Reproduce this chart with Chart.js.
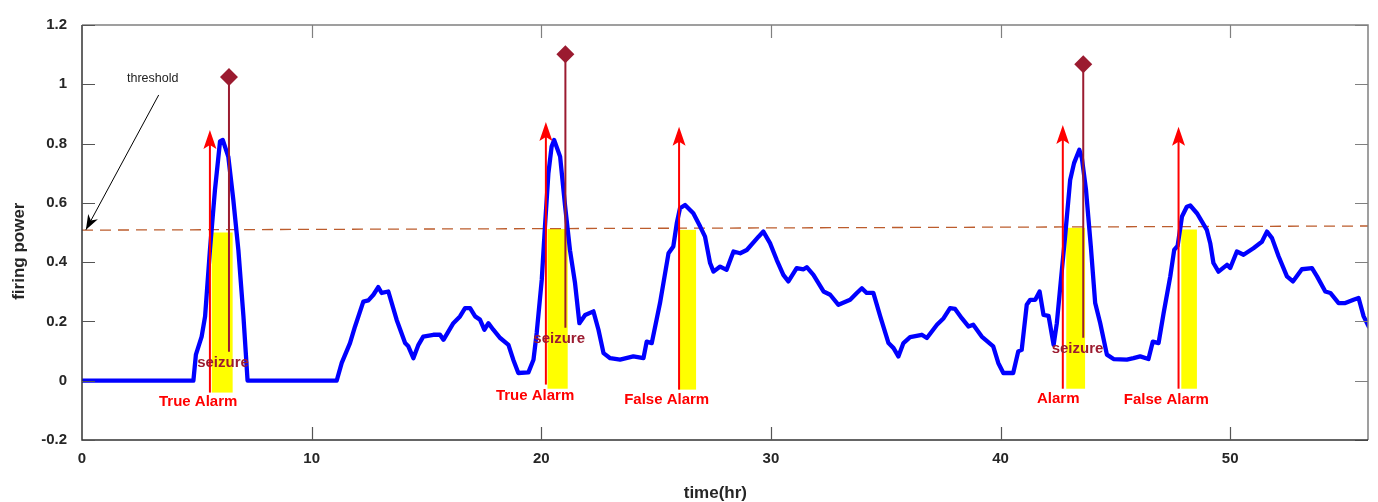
<!DOCTYPE html>
<html>
<head>
<meta charset="utf-8">
<script src="https://cdn.jsdelivr.net/npm/chart.js@4/dist/chart.umd.min.js"></script>
<style>
  html, body { margin: 0; padding: 0; background: #ffffff; }
  #wrap { width: 1378px; height: 502px; }
</style>
</head>
<body>
<div id="wrap"><canvas id="c" width="1378" height="502"></canvas></div>
<script>
// ---------------- data ----------------
const xTicks = [0, 10, 20, 30, 40, 50];
const xTickLabels = ['0', '10', '20', '30', '40', '50'];
const yTicks = [-0.2, 0, 0.2, 0.4, 0.6, 0.8, 1.0, 1.2];
const yTickLabels = ['-0.2', '0', '0.2', '0.4', '0.6', '0.8', '1', '1.2'];

// firing power curve (time in hours, value)
const curveT = [
  0, 4.85, 4.96, 5.21, 5.36, 5.57, 5.79, 6.01, 6.13, 6.37, 6.59, 6.81, 7.03, 7.21,
  11.09, 11.31, 11.67, 11.89, 12.25, 12.47, 12.69, 12.9, 13.05, 13.34, 13.7, 14.07, 14.21, 14.43,
  14.65, 14.86, 15.3, 15.59, 15.74, 16.17, 16.46, 16.68, 16.9, 17.12, 17.33, 17.52, 17.7, 17.91,
  18.21, 18.57, 18.78, 19.0, 19.44, 19.66, 19.8, 20.02, 20.16, 20.31, 20.45, 20.56, 20.82, 21.04,
  21.25, 21.47, 21.66, 21.91, 22.27, 22.49, 22.71, 23.0, 23.43, 24.01, 24.45, 24.59, 24.81, 25.17,
  25.54, 25.75, 25.9, 26.04, 26.26, 26.62, 26.92, 27.13, 27.35, 27.5, 27.79, 28.07, 28.37, 28.66,
  28.95, 29.46, 29.67, 29.96, 30.25, 30.54, 30.76, 31.12, 31.42, 31.56, 31.85, 32.29, 32.58, 32.94,
  33.45, 33.74, 33.96, 34.17, 34.46, 34.76, 35.12, 35.34, 35.55, 35.77, 36.06, 36.57, 36.79, 37.23,
  37.52, 37.8, 38.02, 38.31, 38.6, 38.81, 39.18, 39.68, 39.9, 40.12, 40.55, 40.77, 40.92, 41.14,
  41.29, 41.51, 41.7, 41.87, 42.09, 42.31, 42.45, 42.67, 42.81, 43.03, 43.2, 43.43, 43.54, 43.72,
  43.93, 44.12, 44.34, 44.63, 44.92, 45.5, 45.79, 46.08, 46.44, 46.63, 46.88, 47.1, 47.39, 47.56,
  47.71, 47.9, 48.11, 48.26, 48.55, 48.77, 48.98, 49.13, 49.27, 49.49, 49.86, 50.0, 50.29, 50.58,
  51.01, 51.38, 51.6, 51.82, 52.11, 52.47, 52.73, 53.12, 53.56, 53.78, 54.14, 54.36, 54.72, 55.01,
  55.37, 55.59, 55.81, 56.03
];
const curveV = [
  0, 0, 0.088, 0.149, 0.217, 0.44, 0.644, 0.807, 0.812, 0.756, 0.61, 0.44, 0.217, 0.0,
  0.0, 0.06, 0.127, 0.183, 0.267, 0.271, 0.29, 0.316, 0.296, 0.301, 0.206, 0.127, 0.116, 0.076,
  0.121, 0.149, 0.155, 0.155, 0.138, 0.194, 0.217, 0.245, 0.245, 0.217, 0.206, 0.172, 0.194, 0.172,
  0.144, 0.121, 0.071, 0.026, 0.028, 0.071, 0.161, 0.34, 0.52, 0.70, 0.79, 0.812, 0.756, 0.587,
  0.44, 0.329, 0.194, 0.222, 0.234, 0.172, 0.093, 0.076, 0.071, 0.082, 0.076, 0.132, 0.127, 0.262,
  0.43, 0.453, 0.531, 0.582, 0.593, 0.565, 0.52, 0.486, 0.397, 0.368, 0.385, 0.374, 0.436, 0.43,
  0.441, 0.486, 0.503, 0.464, 0.408, 0.357, 0.335, 0.38, 0.376, 0.383, 0.357, 0.301, 0.29, 0.256,
  0.273, 0.296, 0.312, 0.296, 0.296, 0.217, 0.127, 0.11, 0.082, 0.127, 0.147, 0.155, 0.144, 0.189,
  0.211, 0.245, 0.242, 0.211, 0.183, 0.189, 0.149, 0.116, 0.06, 0.026, 0.026, 0.099, 0.104, 0.256,
  0.273, 0.273, 0.301, 0.222, 0.219, 0.121, 0.194, 0.374, 0.486, 0.677, 0.734, 0.779, 0.751, 0.644,
  0.453, 0.262, 0.194, 0.088, 0.073, 0.071, 0.076, 0.082, 0.073, 0.132, 0.127, 0.228, 0.352, 0.441,
  0.455, 0.554, 0.587, 0.591, 0.565, 0.537, 0.509, 0.464, 0.397, 0.368, 0.391, 0.38, 0.436, 0.425,
  0.447, 0.469, 0.503, 0.481, 0.419, 0.352, 0.335, 0.376, 0.38, 0.352, 0.301, 0.296, 0.262, 0.262,
  0.273, 0.279, 0.217, 0.183
];

// threshold line (slightly sloped)
const thresholdT = [0, 56];
const thresholdV = [0.508, 0.522];

// alarms: arrow time, arrow top/bottom, yellow band
const alarmTime   = [5.57, 20.2, 26.0, 42.71, 47.75];
const arrowTop    = [0.846, 0.873, 0.857, 0.863, 0.857];
const arrowBottom = [-0.04, -0.013, -0.03, -0.027, -0.027];
const bandStart   = [5.65, 20.27, 25.98, 42.86, 47.87];
const bandEnd     = [6.56, 21.15, 26.74, 43.68, 48.55];
const bandTop     = [0.50, 0.512, 0.509, 0.516, 0.51];
const bandBottom  = [-0.04, -0.027, -0.03, -0.027, -0.027];
const alarmLabels = ['True Alarm', 'True Alarm', 'False Alarm', 'Alarm', 'False Alarm'];
const alarmLabelT = [5.06, 19.73, 25.46, 42.51, 47.22];
const alarmLabelV = [-0.073, -0.052, -0.064, -0.062, -0.064];

// seizures
const seizureTime   = [6.40, 21.05, 43.6];
const seizureTop    = [1.025, 1.101, 1.068];
const seizureBottom = [0.098, 0.179, 0.145];
const seizureLabel  = 'seizure';
const seizureLabelT = [6.14, 20.78, 43.35];
const seizureLabelV = [0.06, 0.141, 0.107];

// threshold annotation
const thresholdText = 'threshold';
const thresholdTextPos = [3.08, 1.018];
const thresholdArrowFrom = [3.34, 0.964];
const thresholdArrowTo = [0.17, 0.509];

const xTitle = 'time(hr)';
const yTitle = 'firing power';

// ---------------- colours ----------------
const BLUE = '#0000ff';
const RED = '#ff0000';
const SEIZ = '#9b1b30';
const THR = 'rgb(188,92,45)';
const FONT = "'Liberation Sans', Arial, Helvetica, sans-serif";

// ---------------- datasets ----------------
const datasets = [];
datasets.push({
  label: 'threshold',
  data: thresholdT.map((t, i) => ({ x: t, y: thresholdV[i] })),
  borderColor: THR, borderWidth: 1.3, borderDash: [11, 7],
  pointRadius: 0, showLine: true, order: 10
});
datasets.push({
  label: 'firing power',
  data: curveT.map((t, i) => ({ x: t, y: curveV[i] })),
  borderColor: BLUE, borderWidth: 4.3, pointRadius: 0, showLine: true,
  tension: 0, borderJoinStyle: 'round', borderCapStyle: 'round', order: 9
});
seizureTime.forEach((t, i) => {
  datasets.push({
    label: 'seizure' + i,
    data: [{ x: t, y: seizureBottom[i] }, { x: t, y: seizureTop[i] }],
    borderColor: SEIZ, borderWidth: 2, showLine: true,
    pointRadius: [0, 9], pointStyle: 'rectRot',
    pointBackgroundColor: SEIZ, pointBorderColor: SEIZ, pointBorderWidth: 0,
    order: 8, clip: false
  });
});
alarmTime.forEach((t, i) => {
  datasets.push({
    label: 'alarm' + i,
    data: [{ x: t, y: arrowBottom[i] }, { x: t, y: arrowTop[i] - 0.03 }],
    borderColor: RED, borderWidth: 2, showLine: true, pointRadius: 0, order: 7
  });
});

// ---------------- plugin for bands, arrowheads, labels, frame ----------------
const overlay = {
  id: 'overlay',
  beforeDatasetsDraw(chart) {
    const { ctx, scales: { x, y } } = chart;
    ctx.save();
    ctx.fillStyle = '#ffff00';
    bandStart.forEach((s, i) => {
      const x0 = x.getPixelForValue(s), x1 = x.getPixelForValue(bandEnd[i]);
      const y0 = y.getPixelForValue(bandTop[i]), y1 = y.getPixelForValue(bandBottom[i]);
      ctx.fillRect(x0, y0, x1 - x0, y1 - y0);
    });
    ctx.restore();
  },
  afterDatasetsDraw(chart) {
    const { ctx, scales: { x, y } } = chart;
    ctx.save();
    // red arrowheads
    ctx.fillStyle = RED;
    alarmTime.forEach((t, i) => {
      const px = x.getPixelForValue(t), py = y.getPixelForValue(arrowTop[i]);
      ctx.beginPath();
      ctx.moveTo(px, py);
      ctx.lineTo(px + 6.5, py + 19);
      ctx.lineTo(px, py + 15);
      ctx.lineTo(px - 6.5, py + 19);
      ctx.closePath();
      ctx.fill();
    });
    // threshold annotation arrow
    const ax0 = x.getPixelForValue(thresholdArrowFrom[0]), ay0 = y.getPixelForValue(thresholdArrowFrom[1]);
    const ax1 = x.getPixelForValue(thresholdArrowTo[0]), ay1 = y.getPixelForValue(thresholdArrowTo[1]);
    ctx.strokeStyle = '#000'; ctx.lineWidth = 1;
    ctx.beginPath(); ctx.moveTo(ax0, ay0); ctx.lineTo(ax1, ay1); ctx.stroke();
    const ang = Math.atan2(ay1 - ay0, ax1 - ax0);
    const L = 15, W = 5.5;
    const bx = ax1 - Math.cos(ang) * L, by = ay1 - Math.sin(ang) * L;
    const nx = -Math.sin(ang), ny = Math.cos(ang);
    const mx = ax1 - Math.cos(ang) * L * 0.7, my = ay1 - Math.sin(ang) * L * 0.7;
    ctx.fillStyle = '#000';
    ctx.beginPath();
    ctx.moveTo(ax1, ay1);
    ctx.lineTo(bx + nx * W, by + ny * W);
    ctx.lineTo(mx, my);
    ctx.lineTo(bx - nx * W, by - ny * W);
    ctx.closePath(); ctx.fill();
    // texts
    ctx.textAlign = 'center'; ctx.textBaseline = 'middle';
    ctx.font = '12.5px ' + FONT; ctx.fillStyle = '#222';
    ctx.fillText(thresholdText, x.getPixelForValue(thresholdTextPos[0]), y.getPixelForValue(thresholdTextPos[1]));
    ctx.font = 'bold 15px ' + FONT;
    ctx.fillStyle = RED;
    alarmLabels.forEach((s, i) => ctx.fillText(s, x.getPixelForValue(alarmLabelT[i]), y.getPixelForValue(alarmLabelV[i])));
    ctx.fillStyle = SEIZ;
    seizureLabelT.forEach((t, i) => ctx.fillText(seizureLabel, x.getPixelForValue(t), y.getPixelForValue(seizureLabelV[i])));
    ctx.restore();
  },
  afterDraw(chart) {
    const { ctx, chartArea: a, scales: { x, y } } = chart;
    ctx.save();
    const TL = 13;
    // top & right (lighter)
    ctx.strokeStyle = '#808080'; ctx.lineWidth = 1.5;
    ctx.beginPath();
    ctx.moveTo(a.left, a.top); ctx.lineTo(a.right, a.top); ctx.lineTo(a.right, a.bottom);
    ctx.stroke();
    ctx.lineWidth = 1.2;
    ctx.beginPath();
    xTicks.forEach(v => { const px = Math.round(x.getPixelForValue(v)) + 0.5; if (px > a.left + 2) { ctx.moveTo(px, a.top); ctx.lineTo(px, a.top + TL); } });
    yTicks.forEach(v => { const py = Math.round(y.getPixelForValue(v)) + 0.5; ctx.moveTo(a.right, py); ctx.lineTo(a.right - TL, py); });
    ctx.stroke();
    // left & bottom (darker)
    ctx.strokeStyle = '#333'; ctx.lineWidth = 1.5;
    ctx.beginPath();
    ctx.moveTo(a.left, a.top); ctx.lineTo(a.left, a.bottom); ctx.lineTo(a.right, a.bottom);
    ctx.stroke();
    ctx.strokeStyle = '#555'; ctx.lineWidth = 1.2;
    ctx.beginPath();
    xTicks.forEach(v => { const px = Math.round(x.getPixelForValue(v)) + 0.5; if (px > a.left + 2) { ctx.moveTo(px, a.bottom); ctx.lineTo(px, a.bottom - TL); } });
    yTicks.forEach(v => { const py = Math.round(y.getPixelForValue(v)) + 0.5; ctx.moveTo(a.left, py); ctx.lineTo(a.left + TL, py); });
    ctx.stroke();
    // axis titles
    ctx.fillStyle = '#262626';
    ctx.font = 'bold 17px ' + FONT;
    ctx.textAlign = 'center'; ctx.textBaseline = 'middle';
    ctx.fillText(xTitle, a.left + (a.right - a.left) * 0.4925, a.bottom + 53);
    ctx.translate(19, a.top + (a.bottom - a.top) * 0.545);
    ctx.rotate(-Math.PI / 2);
    ctx.fillText(yTitle, 0, 0);
    ctx.restore();
  }
};

new Chart(document.getElementById('c'), {
  type: 'scatter',
  data: { datasets },
  options: {
    responsive: false,
    animation: false,
    devicePixelRatio: 1,
    layout: { padding: { left: 0, top: 25, right: 10, bottom: 0 } },
    plugins: { legend: { display: false }, tooltip: { enabled: false } },
    scales: {
      x: {
        type: 'linear', min: 0, max: 56,
        afterBuildTicks: s => { s.ticks = xTicks.map(v => ({ value: v })); },
        afterFit: s => { s.height = 62; },
        grid: { display: false, drawTicks: false }, border: { display: false },
        ticks: {
          padding: 10, color: '#262626', maxRotation: 0,
          font: { family: FONT, size: 15, weight: 'bold' },
          callback: (v, i) => xTickLabels[i]
        }
      },
      y: {
        type: 'linear', min: -0.2, max: 1.2,
        afterBuildTicks: s => { s.ticks = yTicks.map(v => ({ value: v })); },
        afterFit: s => { s.width = 82; },
        grid: { display: false, drawTicks: false }, border: { display: false },
        ticks: {
          padding: 15, color: '#262626',
          font: { family: FONT, size: 15, weight: 'bold' },
          callback: (v, i) => yTickLabels[i]
        }
      }
    }
  },
  plugins: [overlay]
});
</script>
</body>
</html>
